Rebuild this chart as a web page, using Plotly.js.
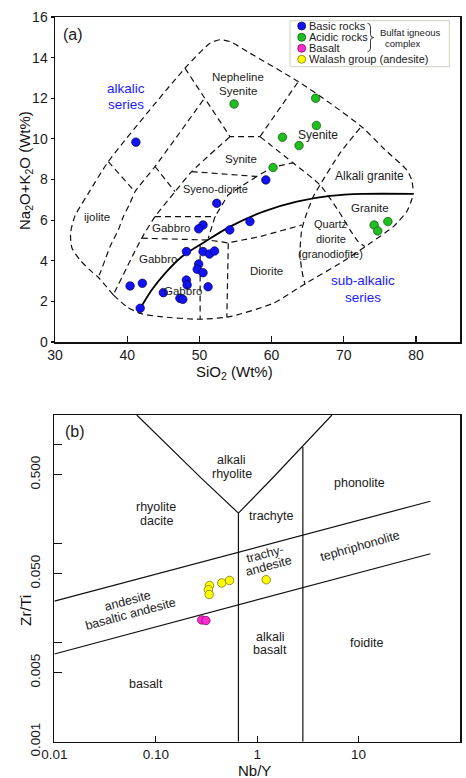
<!DOCTYPE html>
<html><head><meta charset="utf-8">
<script src="https://cdn.plot.ly/plotly-3.0.1.min.js"></script>
<style>html,body{margin:0;padding:0;background:#fff}#chart{width:466px;height:778px}</style>
</head><body><div id="chart"></div>
<script>
// ---------------- Panel (a): TAS data ----------------
const seriesNames = ['Basic rocks', 'Acidic rocks', 'Basalt', 'Walash group (andesite)'];
const basicSiO2 = [41.2, 59.2, 52.4, 50.5, 49.9, 54.2, 57.0, 48.2, 50.5, 51.4, 52.1, 49.9, 49.7, 50.5, 48.2, 48.3, 51.2, 45.0, 47.3, 47.7, 41.8, 40.4, 42.1];
const basicAlk  = [9.84, 7.98, 6.83, 5.76, 5.57, 5.52, 5.93, 4.45, 4.45, 4.33, 4.48, 3.84, 3.58, 3.41, 3.05, 2.81, 2.72, 2.43, 2.15, 2.10, 1.66, 2.76, 2.89];
const acidicSiO2 = [54.8, 66.1, 66.2, 61.5, 63.8, 60.2, 74.2, 74.7, 76.1];
const acidicAlk  = [11.72, 12.0, 10.66, 10.08, 9.67, 8.59, 5.76, 5.47, 5.93];

// field boundaries (SiO2, Na2O+K2O)
const outerUpX = [38.07, 35.96, 35.12, 33.46, 32.35, 32.15, 32.77, 34.57, 37.38, 48.0, 51.47, 52.85, 54.24, 57.0, 63.7, 68.09, 72.7, 75.47, 78.71, 79.4, 79.63];
const outerUpY = [2.32, 3.20, 3.45, 4.04, 4.63, 5.37, 6.21, 7.29, 8.88, 13.48, 14.71, 14.88, 14.79, 14.22, 12.82, 11.76, 10.53, 9.54, 8.47, 7.98, 7.40];
const outerLoX = [38.07, 39.93, 41.77, 44.54, 50.08, 54.24, 60.24, 64.39, 69.5, 73.63, 76.86, 78.71, 79.4, 79.63];
const outerLoY = [2.32, 1.74, 1.41, 1.25, 1.12, 1.25, 1.91, 2.81, 3.88, 4.86, 5.68, 6.42, 7.0, 7.33];
const nsLeftX = [48.0, 54.24, 58.39], nsLeftY = [13.48, 10.11, 10.11];
const nsSyX = [58.39, 63.7], nsSyY = [10.11, 12.82];
const syenBaseX = [58.39, 62.96, 66.7, 69.47, 70.86, 72.0, 72.9], syenBaseY = [10.11, 8.82, 7.73, 6.34, 5.52, 4.94, 4.7];
const graniteX = [72.24, 69.47, 66.7, 65.78, 64.86, 64.17, 63.93, 64.17, 64.63], graniteY = [10.53, 9.3, 7.73, 7.16, 6.34, 5.52, 4.37, 3.55, 2.81];
const ijoRightX = [50.54, 43.85, 41.08, 40.39, 39.46, 38.77, 37.62, 36.93, 36.23, 35.96];
const ijoRightY = [11.92, 8.64, 7.40, 6.83, 6.17, 5.52, 4.69, 4.04, 3.38, 3.20];
const ijoTopX = [37.38, 41.08], ijoTopY = [8.88, 7.40];
const branchX = [43.85, 46.62], branchY = [8.64, 7.40];
const gabLeftX = [54.24, 48.93, 46.62, 43.85, 42.01, 38.07], gabLeftY = [10.11, 8.39, 7.40, 6.17, 5.11, 2.32];
const synBaseX = [48.93, 57.94, 60.15, 62.96], synBaseY = [8.39, 8.15, 8.6, 8.82];
const sdRightX = [57.94, 53.96, 52.16], sdRightY = [8.15, 7.24, 6.17];
const gabBoxX = [43.85, 52.16, 51.23], gabBoxY = [6.17, 6.17, 5.11];
const gabMidX = [42.01, 51.23, 53.96, 58.39, 64.2], gabMidY = [5.11, 5.02, 4.88, 5.19, 5.76];
const v54X = [54.0, 53.8], v54Y = [4.86, 1.22];
const v50X = [50.1, 50.1], v50Y = [4.75, 1.12];
const ibX = [41.77, 43.39, 45.24, 47.55, 50.78, 54.24, 58.85, 63.48, 68.09, 72.7, 79.63];
const ibY = [1.63, 2.56, 3.38, 4.2, 4.94, 5.68, 6.42, 6.91, 7.19, 7.29, 7.29];

// ---------------- Panel (b): Zr/Ti vs Nb/Y ----------------
const walashNbY = [0.338, 0.330, 0.336, 0.448, 0.533, 1.227];
const walashZrTi = [0.0379, 0.0343, 0.0307, 0.0402, 0.0426, 0.0433];
const basaltNbY = [0.284, 0.312];
const basaltZrTi = [0.0170, 0.01675];
const vLeftX = [0.0649, 0.284, 0.653], vLeftY = [2.0, 0.455, 0.204];
const vRightX = [0.653, 1.45, 5.46], vRightY = [0.204, 0.473, 2.0];
const vert1X = [0.653, 0.653], vert1Y = [0.204, 0.001];
const vert2X = [2.82, 2.82], vert2Y = [0.95, 0.001];
const diagUpX = [0.01, 51], diagUpY = [0.0263, 0.269];
const diagLoX = [0.01, 51], diagLoY = [0.0077, 0.0793];
const xTicksB = [0.01, 0.1, 1, 10, 100], xTickTextB = ['0.01', '0.10', '1', '10', '100'];
const yTicksB = [0.001, 0.005, 0.01, 0.05, 0.1, 0.5, 1], yTickTextB = ['0.001', '0.005', '', '0.050', '', '0.500', ''];

const FONT = 'Liberation Sans, Arial, sans-serif';
const W = 466, H = 778;
const PX = x => x / W, PY = y => 1 - y / H;

const traces = [];
const dashed = {color: '#111', width: 1.2, dash: '6px,4px'};
[[outerUpX, outerUpY, 'spline'], [outerLoX, outerLoY, 'spline'], [nsLeftX, nsLeftY], [nsSyX, nsSyY],
 [syenBaseX, syenBaseY, 'spline'], [graniteX, graniteY, 'spline'], [ijoRightX, ijoRightY, 'spline'],
 [ijoTopX, ijoTopY], [branchX, branchY], [gabLeftX, gabLeftY, 'spline'], [synBaseX, synBaseY],
 [sdRightX, sdRightY], [gabBoxX, gabBoxY], [gabMidX, gabMidY], [v54X, v54Y], [v50X, v50Y]
].forEach(([x, y, sh]) => traces.push({x, y, xaxis: 'x', yaxis: 'y', mode: 'lines', hoverinfo: 'skip', showlegend: false,
  line: Object.assign({shape: sh || 'linear', smoothing: 0.6}, dashed)}));
traces.push({x: ibX, y: ibY, xaxis: 'x', yaxis: 'y', mode: 'lines', showlegend: false,
  line: {color: '#000', width: 1.8, shape: 'spline', smoothing: 0.8}});

const colors = ['#1212f2', '#1fbf1f', '#ff2ad0', '#ffff00'];
const edges = ['#00005a', '#0b4d0b', '#6a0050', '#666600'];
traces.push({x: basicSiO2, y: basicAlk, xaxis: 'x', yaxis: 'y', mode: 'markers', name: seriesNames[0], showlegend: false,
  marker: {size: 8.5, color: colors[0], line: {color: edges[0], width: 0.7}}});
traces.push({x: acidicSiO2, y: acidicAlk, xaxis: 'x', yaxis: 'y', mode: 'markers', name: seriesNames[1], showlegend: false,
  marker: {size: 8.5, color: colors[1], line: {color: edges[1], width: 0.7}}});

const solidB = {color: '#111', width: 1.2};
[[vLeftX, vLeftY], [vRightX, vRightY], [vert1X, vert1Y], [vert2X, vert2Y], [diagUpX, diagUpY], [diagLoX, diagLoY]]
  .forEach(([x, y]) => traces.push({x, y, xaxis: 'x2', yaxis: 'y2', mode: 'lines', showlegend: false, hoverinfo: 'skip', line: solidB}));
traces.push({x: basaltNbY, y: basaltZrTi, xaxis: 'x2', yaxis: 'y2', mode: 'markers', name: seriesNames[2], showlegend: false,
  marker: {size: 8.5, color: colors[2], line: {color: edges[2], width: 0.7}}});
traces.push({x: walashNbY, y: walashZrTi, xaxis: 'x2', yaxis: 'y2', mode: 'markers', name: seriesNames[3], showlegend: false,
  marker: {size: 8.5, color: colors[3], line: {color: edges[3], width: 0.7}}});

// ---------------- annotations ----------------
const ann = [];
function label(lines, x, y, size, opts) {
  opts = opts || {};
  const ref = opts.ref || ['x', 'y'];
  const sp = opts.sp || size * 1.2;
  const ang = opts.angle || 0, th = ang * Math.PI / 180;
  lines.forEach((t, i) => {
    const d = (i - (lines.length - 1) / 2) * sp;
    ann.push({text: t, x, y, xref: ref[0], yref: ref[1], showarrow: false, xanchor: 'center', yanchor: 'middle',
      textangle: ang, xshift: d * (-Math.sin(th)), yshift: -d * Math.cos(th),
      font: {family: FONT, size, color: opts.color || '#1a1a1a'}});
  });
}
// panel a labels (data coords)
label(['(a)'], 32.5, 15.12, 16, {});
label(['alkalic', 'series'], 39.9, 12.08, 13.5, {color: '#1a1aff', sp: 16.5});
label(['Nepheline', 'Syenite'], 55.3, 12.7, 11.5, {sp: 14.3});
label(['Syenite'], 66.4, 10.2, 12);
label(['Synite'], 55.76, 9.0, 11.5);
label(['Syeno-diorite'], 52.23, 7.52, 11);
label(['Alkali granite'], 73.58, 8.19, 12);
label(['ijolite'], 35.77, 6.17, 11.5);
label(['Gabbro'], 46.1, 5.6, 11.5);
label(['Gabbro'], 44.33, 4.07, 11.5);
label(['Gabbro'], 47.73, 2.53, 11.5);
label(['Diorite'], 59.32, 3.51, 11.5);
label(['Granite'], 73.63, 6.59, 11.5);
label(['Quartz', 'diorite', '(granodiofite)'], 68.2, 5.05, 11, {sp: 15});
label(['sub-alkalic', 'series'], 72.6, 2.61, 13.5, {color: '#1a1aff', sp: 16.6});
// panel b labels (log coords)
const L = v => Math.log10(v);
const rb = ['x2', 'y2'];
label(['(b)'], L(0.0160), L(1.35), 16, {ref: rb});
label(['alkali', 'rhyolite'], L(0.558), L(0.597), 12.5, {ref: rb, sp: 13.3});
label(['rhyolite', 'dacite'], L(0.1007), L(0.199), 12.5, {ref: rb, sp: 14.3});
label(['trachyte'], L(1.38), L(0.189), 12.5, {ref: rb});
label(['phonolite'], L(10.3), L(0.411), 12.5, {ref: rb});
label(['trachy-', 'andesite'], L(1.25), L(0.0684), 12.5, {ref: rb, sp: 13, angle: -15});
label(['tephriphonolite'], L(10.4), L(0.0945), 12.5, {ref: rb, angle: -16});
label(['andesite', 'basaltic andesite'], L(0.0544), L(0.0227), 12.5, {ref: rb, sp: 13.4, angle: -15});
label(['basalt'], L(0.0807), L(0.00384), 12.5, {ref: rb});
label(['alkali', 'basalt'], L(1.34), L(0.00988), 12.5, {ref: rb, sp: 13.3});
label(['foidite'], L(12.1), L(0.00998), 12.5, {ref: rb});
// axis titles
const rp = ['paper', 'paper'];
label(['SiO<sub>2</sub> (Wt%)'], PX(234.7), PY(372.7), 15, {ref: rp, color: '#111'});
label(['Na<sub>2</sub>O+K<sub>2</sub>O (Wt%)'], PX(25), PY(171), 15, {ref: rp, angle: -90, color: '#111'});
label(['Nb/Y'], PX(255), PY(770), 15, {ref: rp, color: '#111'});
label(['Zr/Ti'], PX(25), PY(611), 15.5, {ref: rp, angle: -90, color: '#111'});

// legend (custom)
const shapes = [];
shapes.push({type: 'rect', xref: 'paper', yref: 'paper', x0: PX(290), x1: PX(449.3), y0: PY(66.7), y1: PY(20.7),
  line: {color: '#cfcfc0', width: 1}, fillcolor: 'rgba(255,255,255,0)'});
const legY = [26, 37.3, 48.3, 59.3];
seriesNames.forEach((n, i) => {
  shapes.push({type: 'circle', xref: 'paper', yref: 'paper', xsizemode: 'pixel', ysizemode: 'pixel',
    xanchor: PX(301.7), yanchor: PY(legY[i]), x0: -4, x1: 4, y0: -4, y1: 4,
    fillcolor: colors[i], line: {color: edges[i], width: 0.7}});
  ann.push({text: n, x: PX(306.5), y: PY(legY[i]), xref: 'paper', yref: 'paper', showarrow: false,
    xanchor: 'left', yanchor: 'middle', font: {family: FONT, size: 11, color: '#1a1a1a'}});
});
// brace
(function () {
  const p = (x, y) => PX(x).toFixed(5) + ',' + PY(y).toFixed(5);
  const path = 'M' + p(367.5, 23.3) + ' Q' + p(370.5, 23.3) + ' ' + p(370.5, 27) + ' L' + p(370.5, 34.5) +
    ' Q' + p(370.5, 37.5) + ' ' + p(373.5, 37.5) + ' Q' + p(370.5, 37.5) + ' ' + p(370.5, 40.5) +
    ' L' + p(370.5, 48) + ' Q' + p(370.5, 51.7) + ' ' + p(367.5, 51.7);
  shapes.push({type: 'path', xref: 'paper', yref: 'paper', path, line: {color: '#222', width: 0.9}});
})();
label(['Bulfat igneous'], PX(410), PY(32.3), 9.5, {ref: rp});
label(['complex'], PX(403.3), PY(43.3), 9.5, {ref: rp});

const axBase = {showgrid: false, zeroline: false, showline: true, linecolor: '#111', linewidth: 1.5, mirror: true,
  tickcolor: '#111', tickwidth: 1.2, tickfont: {family: FONT, size: 14, color: '#1a1a1a'}};

const layout = {
  width: W, height: H, margin: {l: 0, r: 0, t: 0, b: 0}, paper_bgcolor: '#fff', plot_bgcolor: '#fff',
  showlegend: false, font: {family: FONT},
  xaxis: Object.assign({}, axBase, {domain: [PX(55), PX(460)], range: [30, 86.09], tickvals: [30, 40, 50, 60, 70, 80],
    ticks: 'inside', ticklen: 6, anchor: 'y'}),
  yaxis: Object.assign({}, axBase, {domain: [PY(342), PY(17)], range: [0, 16], dtick: 2, ticks: 'outside', ticklen: 3, anchor: 'x'}),
  xaxis2: Object.assign({}, axBase, {domain: [PX(54.4), PX(460)], type: 'log', range: [-2, 2], tickvals: xTicksB, ticktext: xTickTextB,
    ticks: 'inside', ticklen: 6, anchor: 'y2', tickfont: {family: FONT, size: 13.5, color: '#1a1a1a'}}),
  yaxis2: Object.assign({}, axBase, {domain: [PY(741.7), PY(415)], type: 'log', range: [-3, Math.log10(2)], tickmode: 'array', tickvals: yTicksB, ticktext: yTickTextB,
    ticks: 'inside', ticklen: 8, tickangle: -90, anchor: 'x2', ticklabelstandoff: 8, tickfont: {family: FONT, size: 13.5, color: '#1a1a1a'}}),
  annotations: ann, shapes: shapes
};
Plotly.newPlot('chart', traces, layout, {displayModeBar: false, staticPlot: true});
</script></body></html>
